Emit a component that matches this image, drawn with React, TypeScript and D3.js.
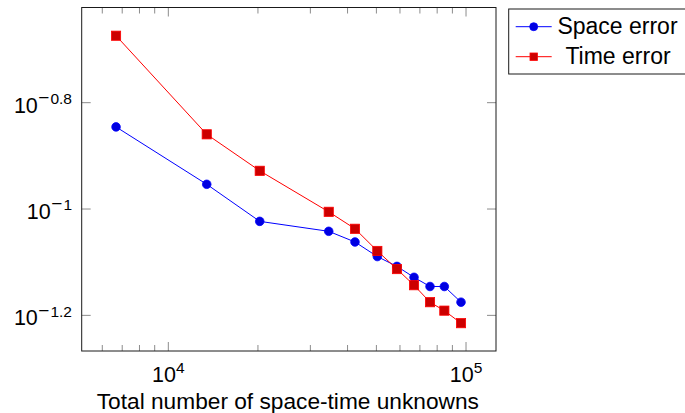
import React from "react";
import * as d3 from "d3";

// number of space-time unknowns
const unknowns = [6674, 13460, 20280, 34580, 42370, 50360, 58620, 66890, 75690, 84560, 96200];
const spaceError = [0.1427, 0.1113, 0.0948, 0.0908, 0.0867, 0.0814, 0.078, 0.0744, 0.0715, 0.0715, 0.0668];
const timeError = [0.2118, 0.1382, 0.118, 0.0988, 0.0918, 0.0834, 0.0771, 0.0719, 0.0668, 0.0644, 0.061];

const xMajor = [1e4, 1e5];
const xMajorExp = ["4", "5"];
const xMinor = [6000, 7000, 8000, 9000, 2e4, 3e4, 4e4, 5e4, 6e4, 7e4, 8e4, 9e4];
const yMajorExp = [-0.8, -1, -1.2];
const yMajorLabel = ["0.8", "1", "1.2"];

const W = 685;
const H = 413;
const left = 81.7, right = 496, top = 7.5, bottom = 351;
const font = "'Liberation Sans', Arial, Helvetica, sans-serif";

export default function App() {
  const x = d3.scaleLog().domain([5117, 126100]).range([left, right]);
  const y = d3.scaleLog().domain([Math.pow(10, -1.267), Math.pow(10, -0.621)]).range([bottom, top]);

  const lineGen = (vals: number[]) =>
    d3.line<number>()
      .x((_, i) => x(unknowns[i]))
      .y((v) => y(v))(vals) || "";

  const tickCol = "#8c8c8c";

  return (
    <svg width={W} height={H} style={{ position: "absolute", left: 0, top: 0 }} fontFamily={font}>
      <rect x={0} y={0} width={W} height={H} fill="white" />
      {/* ticks */}
      {xMinor.map((t) => (
        <g key={"mn" + t} stroke={tickCol} strokeWidth={1}>
          <line x1={x(t)} x2={x(t)} y1={bottom} y2={bottom - 6} />
          <line x1={x(t)} x2={x(t)} y1={top} y2={top + 6} />
        </g>
      ))}
      {xMajor.map((t) => (
        <g key={"mj" + t} stroke={tickCol} strokeWidth={1}>
          <line x1={x(t)} x2={x(t)} y1={bottom} y2={bottom - 9} />
          <line x1={x(t)} x2={x(t)} y1={top} y2={top + 9} />
        </g>
      ))}
      {yMajorExp.map((e) => {
        const yy = y(Math.pow(10, e));
        return (
          <g key={"ym" + e} stroke={tickCol} strokeWidth={1}>
            <line x1={left} x2={left + 9} y1={yy} y2={yy} />
            <line x1={right} x2={right - 9} y1={yy} y2={yy} />
          </g>
        );
      })}
      {/* frame */}
      <rect x={left} y={top} width={right - left} height={bottom - top} fill="none" stroke="#1a1a1a" strokeWidth={1} />

      {/* x tick labels */}
      {xMajor.map((t, i) => (
        <text key={"xl" + t} x={x(t)} y={381.7} textAnchor="middle" fontSize={21.5} fill="#000">
          10<tspan fontSize={15.5} dy={-8.6}>{xMajorExp[i]}</tspan>
        </text>
      ))}
      {/* y tick labels */}
      {yMajorExp.map((e, i) => (
        <text key={"yl" + e} x={72} y={y(Math.pow(10, e)) + 10} textAnchor="end" fontSize={21.5} fill="#000">
          10<tspan fontSize={19} dy={-8.6} dx={0.5}>{"\u2212"}</tspan>
          <tspan fontSize={15.5} dx={1}>{yMajorLabel[i]}</tspan>
        </text>
      ))}

      {/* series */}
      <path d={lineGen(spaceError)} fill="none" stroke="#0000ff" strokeWidth={1} />
      <path d={lineGen(timeError)} fill="none" stroke="#ff0000" strokeWidth={1} />
      {spaceError.map((v, i) => (
        <circle key={"s" + i} cx={x(unknowns[i])} cy={y(v)} r={4.3} fill="#0000e0" stroke="#0000ff" strokeWidth={0.8} />
      ))}
      {timeError.map((v, i) => (
        <rect key={"t" + i} x={x(unknowns[i]) - 4.6} y={y(v) - 4.6} width={9.2} height={9.2} fill="#cc0000" stroke="#ff0000" strokeWidth={0.8} />
      ))}

      {/* axis title */}
      <text x={(left + right) / 2 - 1} y={408.5} textAnchor="middle" fontSize={22.7} fill="#000">
        Total number of space-time unknowns
      </text>

      {/* legend */}
      <rect x={508.7} y={9} width={190} height={65} fill="white" stroke="#1a1a1a" strokeWidth={1} />
      <line x1={515.7} x2={551.7} y1={26.7} y2={26.7} stroke="#0000ff" strokeWidth={1} />
      <circle cx={533.7} cy={26.7} r={4} fill="#0000e0" stroke="#0000ff" strokeWidth={0.8} />
      <line x1={515.7} x2={551.7} y1={56.7} y2={56.7} stroke="#ff0000" strokeWidth={1} />
      <rect x={530} y={53} width={7.4} height={7.4} fill="#cc0000" stroke="#ff0000" strokeWidth={0.8} />
      <text x={617.5} y={34.3} textAnchor="middle" fontSize={23} fill="#000">Space error</text>
      <text x={618} y={64.3} textAnchor="middle" fontSize={23} fill="#000">Time error</text>
    </svg>
  );
}
